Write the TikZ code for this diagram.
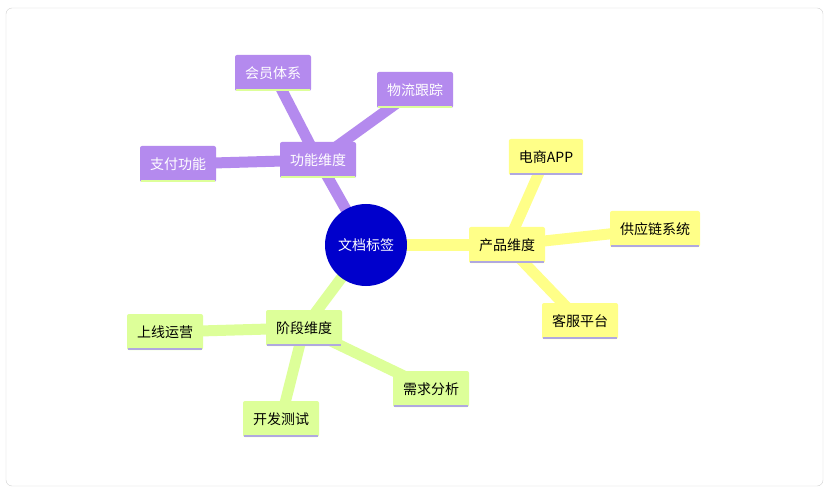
\documentclass[tikz,border=0pt]{standalone}
\usepackage{fontspec}
\setmainfont{Noto Sans CJK SC}
\definecolor{yel}{HTML}{FFFF88}
\definecolor{pur}{HTML}{B48AEE}
\definecolor{grn}{HTML}{DDFF99}
\definecolor{lav}{HTML}{B0A8E0}
\definecolor{cblue}{HTML}{0000CC}
\begin{document}
\begin{tikzpicture}[x=1pt,y=-1pt,
  box/.style={rounded corners=2pt,minimum height=36pt,inner xsep=10pt,font=\fontsize{14}{16}\selectfont},
  ybox/.style={box,fill=yel,text=black},
  pbox/.style={box,fill=pur,text=white},
  gbox/.style={box,fill=grn,text=black},
  ylink/.style={line width=11pt,draw=yel},
  plink/.style={line width=11pt,draw=pur},
  glink/.style={line width=11pt,draw=grn}]
\useasboundingbox (0,0) rectangle (829,494);
\draw[rounded corners=6pt,draw=black!18,fill=white] (6,8) rectangle (823,486);
\coordinate (c) at (366,245);
\coordinate (p) at (507,245);
\coordinate (f) at (318,160);
\coordinate (g) at (304,328);
\coordinate (p1) at (546,157);
\coordinate (p2) at (655,229);
\coordinate (p3) at (580,321);
\coordinate (f1) at (273,73);
\coordinate (f2) at (415,90);
\coordinate (f3) at (178,164);
\coordinate (g1) at (165,332);
\coordinate (g2) at (281,419);
\coordinate (g3) at (431,389);
\draw[ylink] (c)--(p); \draw[ylink] (p)--(p1); \draw[ylink] (p)--(p2); \draw[ylink] (p)--(p3);
\draw[plink] (c)--(f); \draw[plink] (f)--(f1); \draw[plink] (f)--(f2); \draw[plink] (f)--(f3);
\draw[glink] (c)--(g); \draw[glink] (g)--(g1); \draw[glink] (g)--(g2); \draw[glink] (g)--(g3);
\node[circle,fill=cblue,text=white,minimum size=82pt,inner sep=0pt,font=\fontsize{14}{16}\selectfont] (root) at (c) {文档标签};
\foreach \n/\t/\s/\u in {p/产品维度/ybox/lav,p1/电商APP/ybox/lav,p2/供应链系统/ybox/lav,p3/客服平台/ybox/lav,
  f/功能维度/pbox/grn,f1/会员体系/pbox/grn,f2/物流跟踪/pbox/grn,f3/支付功能/pbox/grn,
  g/阶段维度/gbox/lav,g1/上线运营/gbox/lav,g2/开发测试/gbox/lav,g3/需求分析/gbox/lav}{
  \node[\s] (n\n) at (\n) {\t};
  \draw[draw=\u,line width=2pt] (n\n.south west)++(1,-1) -- ([xshift=-1pt,yshift=1pt]n\n.south east);
}
\end{tikzpicture}
\end{document}
